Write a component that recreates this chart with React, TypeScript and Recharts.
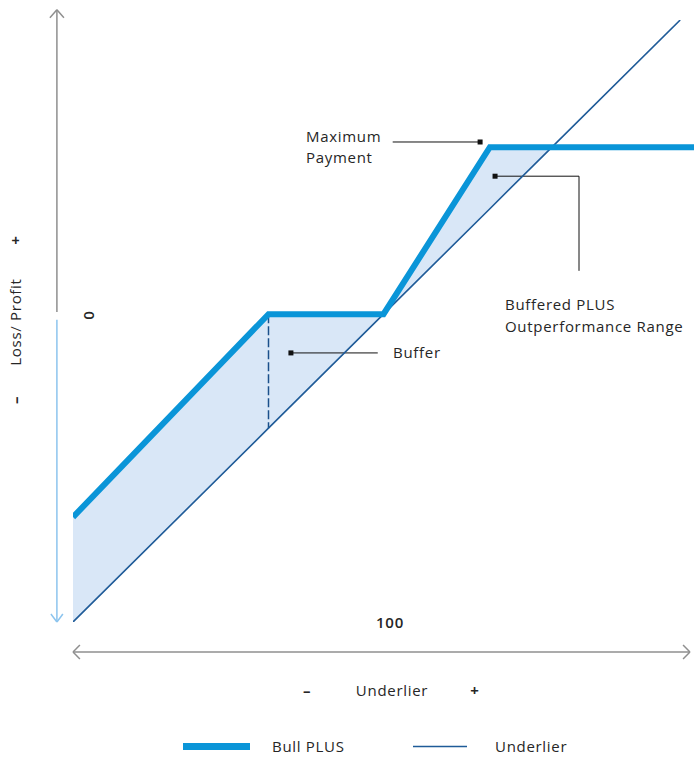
import React from "react";
import { ComposedChart, Line, Area, XAxis, YAxis, ReferenceLine, ReferenceDot } from "recharts";

// Underlier level (x) at the points where the payoff changes slope
const underlierLevels = [46, 80, 100, 118.5, 129.3, 151.6, 154];
// Underlier payoff (1:1)
const underlierPayoff: (number | null)[] = [46, 80, 100, 118.5, 129.3, 151.6, null];
// Bull PLUS payoff
const bullPlusPayoff = [64.4, 100, 100, 129.3, 129.3, 129.3, 129.3];
// Shaded range between underlier and Bull PLUS (up to where they meet at the cap)
const shadeEnd = 129.3;

const BULL = "#0a95d8";
const UND = "#1f5b98";
const SHADE = "#d9e7f7";
const GRAY = "#8f8f8f";
const LIGHT = "#8cc4ee";
const TEXT = "#262626";
const FONT = "'Open Sans', sans-serif";

const data = underlierLevels.map((x, i) => ({
  x,
  underlier: underlierPayoff[i],
  bull: bullPlusPayoff[i],
  shade: x <= shadeEnd && underlierPayoff[i] != null ? [underlierPayoff[i] as number, bullPlusPayoff[i]] : null,
}));

const seg = (x1: number, y1: number, x2: number, y2: number) => [
  { x: x1, y: y1 },
  { x: x2, y: y2 },
];

const SquareDot = (props: any) => (
  <rect x={props.cx - 2.5} y={props.cy - 2.5} width={5} height={5} fill="#111" />
);

export default function App() {
  const t = { fontFamily: FONT, fontSize: 15, fill: TEXT, letterSpacing: 0.7 } as const;
  return (
    <div style={{ position: "absolute", left: 0, top: 0, background: "#fff" }}>
      <ComposedChart
        width={694}
        height={758}
        data={data}
        margin={{ top: 20, right: 0, bottom: 136, left: 73 }}
      >
        <XAxis dataKey="x" type="number" domain={[46, 154]} hide allowDataOverflow />
        <YAxis type="number" domain={[46, 151.6]} hide allowDataOverflow />

        <Area
          dataKey="shade"
          type="linear"
          stroke="none"
          fill={SHADE}
          fillOpacity={1}
          isAnimationActive={false}
          connectNulls={false}
          activeDot={false}
        />

        {/* buffer marker */}
        <ReferenceLine
          segment={seg(80, 100, 80, 80)}
          stroke="#1a4f8a"
          strokeWidth={1.5}
          strokeDasharray="9 3"
          ifOverflow="visible"
        />

        {/* axes arrows */}
        <ReferenceLine segment={seg(43.2, 100.4, 43.2, 153.4)} stroke={GRAY} strokeWidth={1.5} ifOverflow="visible" />
        <ReferenceLine segment={seg(43.2, 153.4, 41.98, 152.0)} stroke={GRAY} strokeWidth={1.5} ifOverflow="visible" />
        <ReferenceLine segment={seg(43.2, 153.4, 44.42, 152.0)} stroke={GRAY} strokeWidth={1.5} ifOverflow="visible" />
        <ReferenceLine segment={seg(43.2, 99.0, 43.2, 46)} stroke={LIGHT} strokeWidth={1.5} ifOverflow="visible" />
        <ReferenceLine segment={seg(43.2, 46, 42.16, 47.4)} stroke={LIGHT} strokeWidth={1.5} ifOverflow="visible" />
        <ReferenceLine segment={seg(43.2, 46, 44.24, 47.4)} stroke={LIGHT} strokeWidth={1.5} ifOverflow="visible" />
        <ReferenceLine segment={seg(46, 40.74, 153.3, 40.74)} stroke={GRAY} strokeWidth={1.5} ifOverflow="visible" />
        <ReferenceLine segment={seg(46, 40.74, 47.2, 41.96)} stroke={GRAY} strokeWidth={1.5} ifOverflow="visible" />
        <ReferenceLine segment={seg(46, 40.74, 47.2, 39.52)} stroke={GRAY} strokeWidth={1.5} ifOverflow="visible" />
        <ReferenceLine segment={seg(153.3, 40.74, 152.1, 41.96)} stroke={GRAY} strokeWidth={1.5} ifOverflow="visible" />
        <ReferenceLine segment={seg(153.3, 40.74, 152.1, 39.52)} stroke={GRAY} strokeWidth={1.5} ifOverflow="visible" />

        {/* annotation connectors */}
        <ReferenceLine segment={seg(101.6, 130.2, 116.8, 130.2)} stroke="#111" strokeWidth={1} ifOverflow="visible" />
        <ReferenceDot x={116.8} y={130.2} r={3} shape={SquareDot} ifOverflow="visible" />
        <ReferenceLine segment={seg(119.4, 124.2, 134.0, 124.2)} stroke="#111" strokeWidth={1} ifOverflow="visible" />
        <ReferenceLine segment={seg(134.0, 124.2, 134.0, 107.6)} stroke="#111" strokeWidth={1} ifOverflow="visible" />
        <ReferenceDot x={119.4} y={124.2} r={3} shape={SquareDot} ifOverflow="visible" />
        <ReferenceLine segment={seg(83.9, 93.2, 99.0, 93.2)} stroke="#111" strokeWidth={1} ifOverflow="visible" />
        <ReferenceDot x={83.9} y={93.2} r={3} shape={SquareDot} ifOverflow="visible" />

        <Line
          dataKey="underlier"
          type="linear"
          stroke={UND}
          strokeWidth={1.6}
          dot={false}
          activeDot={false}
          isAnimationActive={false}
        />
        <Line
          dataKey="bull"
          type="linear"
          stroke={BULL}
          strokeWidth={6}
          dot={false}
          activeDot={false}
          isAnimationActive={false}
        />

        {/* texts */}
        <text {...t} x={306} y={142}>Maximum</text>
        <text {...t} x={306} y={163}>Payment</text>
        <text {...t} x={505} y={310}>Buffered PLUS</text>
        <text {...t} x={505} y={332}>Outperformance Range</text>
        <text {...t} x={393} y={358}>Buffer</text>
        <text {...t} x={390} y={628} textAnchor="middle" fontWeight={600}>100</text>
        <text {...t} x={0} y={0} textAnchor="middle" fontWeight={600} transform="translate(94,315) rotate(-90)">0</text>

        <text {...t} x={0} y={0} textAnchor="middle" fontWeight={700} transform="translate(21,240) rotate(-90)">+</text>
        <text {...t} x={0} y={0} textAnchor="middle" transform="translate(21,322) rotate(-90)">Loss/ Profit</text>
        <text {...t} x={0} y={0} textAnchor="middle" fontWeight={700} transform="translate(21,400) rotate(-90)">–</text>

        <text {...t} x={307} y={696} textAnchor="middle" fontWeight={700}>–</text>
        <text {...t} x={392} y={696} textAnchor="middle">Underlier</text>
        <text {...t} x={475} y={696} textAnchor="middle" fontWeight={700}>+</text>

        {/* legend */}
        <rect x={183} y={743} width={67} height={7} fill={BULL} />
        <text {...t} x={272} y={752}>Bull PLUS</text>
        <line x1={413} y1={746.5} x2={467} y2={746.5} stroke={UND} strokeWidth={1.6} />
        <text {...t} x={495} y={752}>Underlier</text>
      </ComposedChart>
    </div>
  );
}
